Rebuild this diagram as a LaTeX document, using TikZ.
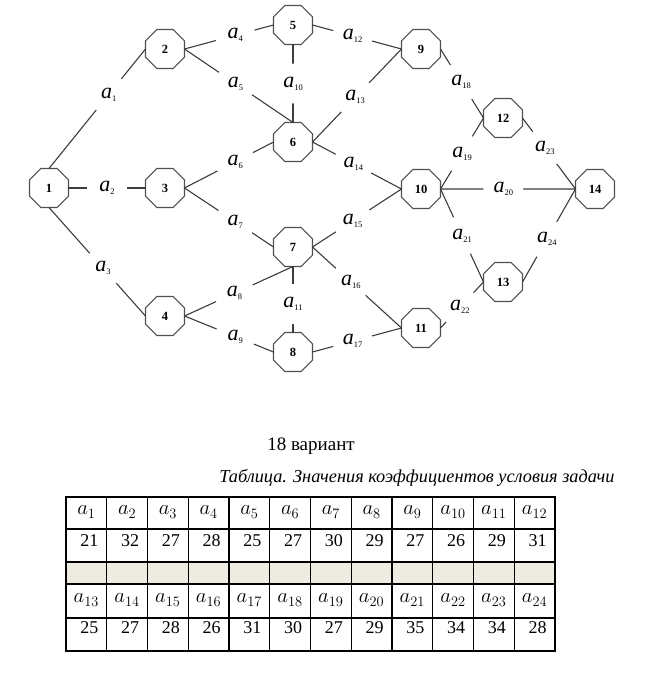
\documentclass[tikz,border=0pt]{standalone}
\usepackage{fontspec}
\setmainfont{Liberation Serif}
\usetikzlibrary{shapes.geometric}
\definecolor{edgecol}{HTML}{3C3C3C}
\definecolor{vertcol}{HTML}{505050}
\definecolor{rowbg}{HTML}{EEECE1}
\newcommand{\lab}[1]{{\fontsize{22}{22}\selectfont\itshape a}\raisebox{-3pt}{\fontsize{8.5}{8.5}\selectfont #1}}
\tikzset{
  vert/.style={
    regular polygon, regular polygon sides=8, draw=vertcol, line width=1.1pt,
    minimum size=42.2pt, inner sep=0pt, outer sep=0pt,
    font=\fontsize{12.5}{13}\selectfont\bfseries
  },
  link/.style={draw=edgecol, line width=1.1pt},
  wlab/.style={circle, fill=white, inner sep=0pt, minimum size=40pt},
  grid/.style={draw=black, line width=1.2pt},
  cellhd/.style={font=\fontsize{20}{20}\selectfont},
  cellnum/.style={font=\fontsize{18}{18}\selectfont}
}

\begin{document}
\begin{tikzpicture}[x=1pt, y=-1pt]
  \useasboundingbox (0,0) rectangle (655,675);

  % graph vertices
  \node[vert] (n1) at (49,188) {1};
  \node[vert] (n2) at (165,49) {2};
  \node[vert] (n3) at (165,188) {3};
  \node[vert] (n4) at (165,316) {4};
  \node[vert] (n5) at (293,25) {5};
  \node[vert] (n6) at (293,142) {6};
  \node[vert] (n7) at (293,247) {7};
  \node[vert] (n8) at (293,352) {8};
  \node[vert] (n9) at (421,49) {9};
  \node[vert] (n10) at (421,189) {10};
  \node[vert] (n11) at (421,328) {11};
  \node[vert] (n12) at (503,118) {12};
  \node[vert] (n13) at (503,282) {13};
  \node[vert] (n14) at (595,189) {14};

  % weighted arcs
  \draw[link] (n1.north) -- node[wlab, pos=0.62] {\lab{1}} (n2.west);
  \draw[link] (n1.east) -- node[wlab, pos=0.5] {\lab{2}} (n3.west);
  \draw[link] (n1.south) -- node[wlab, pos=0.56] {\lab{3}} (n4.west);
  \draw[link] (n2.east) -- node[wlab, pos=0.57] {\lab{4}} (n5.west);
  \draw[link] (n2.east) -- node[wlab, pos=0.47] {\lab{5}} (n6.north);
  \draw[link] (n3.east) -- node[wlab, pos=0.57] {\lab{6}} (n6.west);
  \draw[link] (n3.east) -- node[wlab, pos=0.57] {\lab{7}} (n7.west);
  \draw[link] (n4.east) -- node[wlab, pos=0.46] {\lab{8}} (n7.south);
  \draw[link] (n4.east) -- node[wlab, pos=0.57] {\lab{9}} (n8.west);
  \draw[link] (n5.south) -- node[wlab, pos=0.5] {\lab{10}} (n6.north);
  \draw[link] (n7.south) -- node[wlab, pos=0.57] {\lab{11}} (n8.north);
  \draw[link] (n5.east) -- node[wlab, pos=0.45] {\lab{12}} (n9.west);
  \draw[link] (n6.east) -- node[wlab, pos=0.48] {\lab{13}} (n9.west);
  \draw[link] (n6.east) -- node[wlab, pos=0.46] {\lab{14}} (n10.west);
  \draw[link] (n7.east) -- node[wlab, pos=0.45] {\lab{15}} (n10.west);
  \draw[link] (n7.east) -- node[wlab, pos=0.43] {\lab{16}} (n11.west);
  \draw[link] (n8.east) -- node[wlab, pos=0.45] {\lab{17}} (n11.west);
  \draw[link] (n9.east) -- node[wlab, pos=0.48] {\lab{18}} (n12.west);
  \draw[link] (n10.east) -- node[wlab, pos=0.5] {\lab{19}} (n12.west);
  \draw[link] (n10.east) -- node[wlab, pos=0.465] {\lab{20}} (n14.west);
  \draw[link] (n10.east) -- node[wlab, pos=0.5] {\lab{21}} (n13.west);
  \draw[link] (n11.east) -- node[wlab, pos=0.45] {\lab{22}} (n13.west);
  \draw[link] (n12.east) -- node[wlab, pos=0.42] {\lab{23}} (n14.west);
  \draw[link] (n13.east) -- node[wlab, pos=0.46] {\lab{24}} (n14.west);

  % caption lines
  \node[anchor=base, font=\fontsize{19}{19}\selectfont] (variant) at (311,450) {18 вариант};
  \node[anchor=base, font=\fontsize{18.3}{19}\selectfont\itshape] (caption) at (417,482)
    {Таблица. Значения коэффициентов условия задачи};

  % table of coefficients
  \fill[rowbg] (66,562) rectangle (555,584);
  \draw[grid] (66,497) rectangle (555,651);
  \foreach \y in {529,562,584,618}
    \draw[grid] (66,\y) -- (555,\y);
  \foreach \i in {1,...,11}
    \draw[grid] ({66+\i*40.75},497) -- ({66+\i*40.75},651);
  \foreach \i in {1,...,12}
    \node[cellhd] (h\i) at ({66+(\i-0.5)*40.75},512) {$a_{\i}$};
  \foreach \i in {13,...,24}
    \node[cellhd] (h\i) at ({66+(\i-12.5)*40.75},600) {$a_{\i}$};
  \foreach \v [count=\i] in {21,32,27,28,25,27,30,29,27,26,29,31}
    \node[cellnum] (v\i) at ({69+(\i-0.5)*40.75},541) {\v};
  \foreach \v [count=\i from 13] in {25,27,28,26,31,30,27,29,35,34,34,28}
    \node[cellnum] (v\i) at ({69+(\i-12.5)*40.75},628) {\v};
\end{tikzpicture}
\end{document}
